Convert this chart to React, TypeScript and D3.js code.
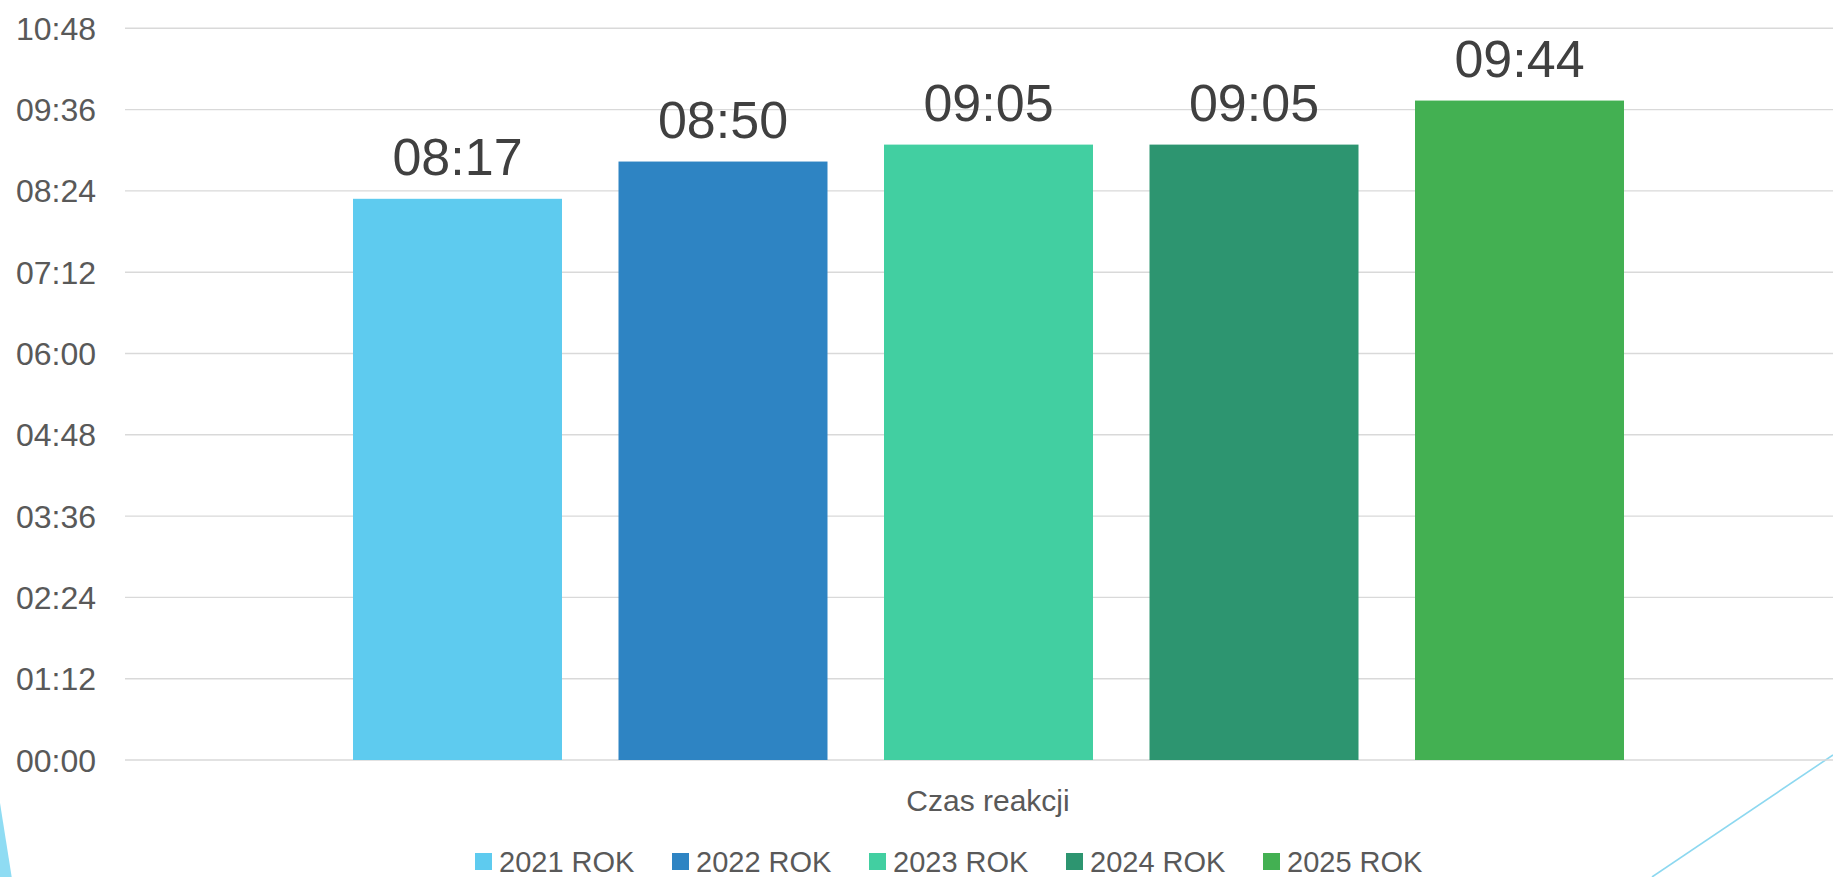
import React from "react";
import * as d3 from "d3";

const seriesNames = ["2021 ROK", "2022 ROK", "2023 ROK", "2024 ROK", "2025 ROK"];
const valueLabels = ["08:17", "08:50", "09:05", "09:05", "09:44"];
const category = "Czas reakcji";
const tickLabels = ["00:00", "01:12", "02:24", "03:36", "04:48", "06:00", "07:12", "08:24", "09:36", "10:48"];
const colors = ["#5ecbef", "#2e84c3", "#42cfa1", "#2d9570", "#43b052"];

const toMin = (s: string) => {
  const [h, m] = s.split(":").map(Number);
  return h * 60 + m;
};

const W = 1833;
const H = 877;
const FONT = "'Liberation Sans', Arial, sans-serif";

export default function App() {
  const values = valueLabels.map(toMin);
  const tickVals = tickLabels.map(toMin);
  const y = d3.scaleLinear().domain([0, 648]).range([760, 28.3]);
  const x = d3.scaleBand<string>().domain(seriesNames).range([353, 1624]).paddingInner(0.2128).paddingOuter(0);
  const legendX = d3.scalePoint<string>().domain(seriesNames).range([475, 475 + 4 * 197]);

  return (
    <svg width={W} height={H} style={{ position: "fixed", left: 0, top: 0, background: "#fff" }}>
      <rect x={0} y={0} width={W} height={H} fill="#fff" />
      {/* decorations */}
      <path d={`M0,803 L11.7,877 L0,877 Z`} fill="#8fdcf3" />
      <line x1={1652} y1={877} x2={1833} y2={755} stroke="#8dd8f0" strokeWidth={1.6} />
      {/* gridlines and y labels */}
      {tickVals.map((v, i) => (
        <g key={i}>
          <line x1={125} x2={W} y1={y(v)} y2={y(v)} stroke="#d9d9d9" strokeWidth={1.4} />
          <text x={96} y={y(v) + 11.5} textAnchor="end" fontFamily={FONT} fontSize={32} fill="#595959">
            {tickLabels[i]}
          </text>
        </g>
      ))}
      {/* bars */}
      {seriesNames.map((s, i) => (
        <g key={s}>
          <rect x={x(s)} y={y(values[i])} width={x.bandwidth()} height={y(0) - y(values[i])} fill={colors[i]} />
          <text
            x={(x(s) as number) + x.bandwidth() / 2}
            y={y(values[i]) - 24}
            textAnchor="middle"
            fontFamily={FONT}
            fontSize={52}
            fill="#404040"
          >
            {valueLabels[i]}
          </text>
        </g>
      ))}
      {/* category label */}
      <text x={988} y={811} textAnchor="middle" fontFamily={FONT} fontSize={30} fill="#595959">
        {category}
      </text>
      {/* legend */}
      {seriesNames.map((s, i) => (
        <g key={"lg" + s}>
          <rect x={legendX(s)} y={853} width={17} height={17} fill={colors[i]} />
          <text x={(legendX(s) as number) + 24} y={871.5} fontFamily={FONT} fontSize={29} fill="#595959">
            {s}
          </text>
        </g>
      ))}
    </svg>
  );
}
